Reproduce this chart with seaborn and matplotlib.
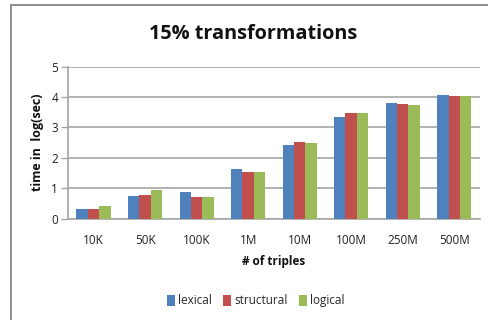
import matplotlib
matplotlib.use("Agg")
import matplotlib.pyplot as plt
from matplotlib.lines import Line2D
from matplotlib.patches import Patch
from matplotlib.ticker import FixedLocator
import pandas as pd
import seaborn as sns

# Dataset sizes and log-scaled run times per transformation type
sizes = ["10K", "50K", "100K", "1M", "10M", "100M", "250M", "500M"]
lexical = [0.30, 0.73, 0.89, 1.62, 2.43, 3.34, 3.79, 4.08]
structural = [0.30, 0.78, 0.70, 1.53, 2.52, 3.46, 3.76, 4.04]
logical = [0.42, 0.95, 0.70, 1.53, 2.48, 3.46, 3.72, 4.04]
series_names = ["lexical", "structural", "logical"]
colors = ["#4F81BD", "#C0504D", "#9BBB59"]

df = pd.DataFrame({
    "size": sizes * 3,
    "value": lexical + structural + logical,
    "type": [s for s in series_names for _ in sizes],
})

sns.set_theme(style="white")
plt.rcParams["font.family"] = ["Open Sans", "DejaVu Sans"]

fig = plt.figure(figsize=(4.89, 3.2), dpi=100)
ax = fig.add_axes([0.1385, 0.317, 0.9816 - 0.1385, 0.792 - 0.317])

sns.barplot(data=df, x="size", y="value", hue="type", order=sizes,
            hue_order=series_names, palette=colors, width=0.66,
            saturation=1, edgecolor="none", ax=ax, legend=False, zorder=3)

ax.set_ylim(0, 5)
ax.set_xlim(-0.5, len(sizes) - 0.5)
ax.set_yticks(range(0, 6))
ax.yaxis.grid(True, color="#A6A6A6", linewidth=1.2, zorder=0)
ax.set_axisbelow(True)

for side in ["top", "right"]:
    ax.spines[side].set_visible(False)
for side in ["left", "bottom"]:
    ax.spines[side].set_color("#A6A6A6")
    ax.spines[side].set_linewidth(1.2)

# category boundary ticks on x, outward ticks on y
ax.xaxis.set_minor_locator(FixedLocator([i - 0.5 for i in range(len(sizes) + 1)]))
ax.tick_params(axis="x", which="major", length=0, pad=11, labelsize=8.5, colors="#222222")
ax.tick_params(axis="x", which="minor", length=4, width=1, color="#A6A6A6", direction="out")
ax.tick_params(axis="y", which="major", length=5, width=1, color="#A6A6A6",
               direction="out", labelsize=8.5, pad=2, colors="#222222", left=True)

ax.set_xlabel("# of triples", fontsize=8.5, fontweight="bold", labelpad=6, color="#111111")
ax.set_ylabel("time in  log(sec)", fontsize=9, fontweight="bold", labelpad=5, color="#111111")

fig.text(0.517, 0.893, "15% transformations", ha="center", va="center",
         fontsize=14.3, fontweight="bold", color="#111111")

handles = [Patch(facecolor=c, edgecolor="none") for c in colors]
fig.legend(handles, series_names, loc="center", bbox_to_anchor=(0.523, 0.06),
           ncol=3, frameon=False, fontsize=8.5, handletextpad=0.3,
           columnspacing=0.9, handlelength=0.7, handleheight=1.1)

# outer chart border (left and top edges)
fig.add_artist(Line2D([11.5 / 489, 11.5 / 489], [0, 1 - 4.5 / 320],
                      transform=fig.transFigure, color="#868686", linewidth=1.3))
fig.add_artist(Line2D([11.5 / 489, 1], [1 - 4.5 / 320, 1 - 4.5 / 320],
                      transform=fig.transFigure, color="#868686", linewidth=1.3))

fig.savefig("out.png", dpi=100, facecolor="white")
